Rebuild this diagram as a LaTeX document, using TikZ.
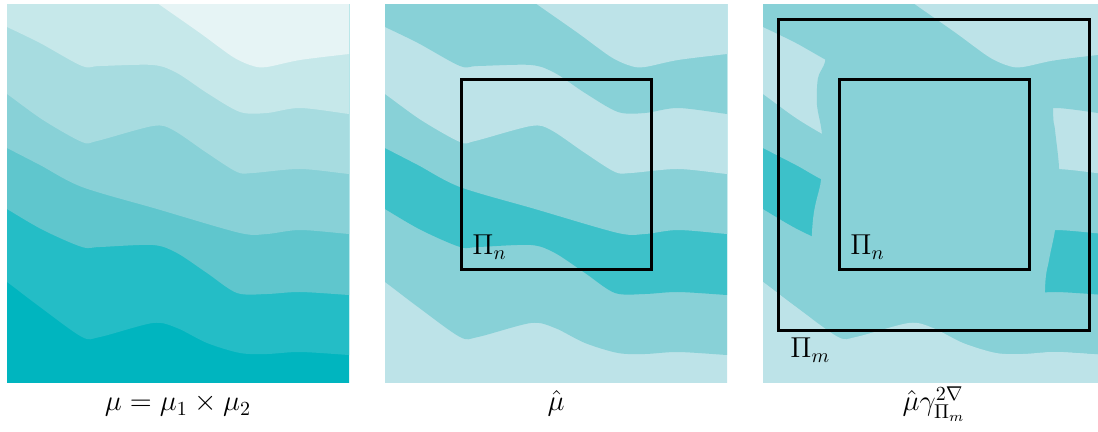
\documentclass[tikz,border=0pt]{standalone}
\definecolor{pa}{HTML}{E6F4F5}
\definecolor{pb}{HTML}{C6E8EA}
\definecolor{pc}{HTML}{A7DCE0}
\definecolor{pd}{HTML}{88D1D7}
\definecolor{pe}{HTML}{5FC6CD}
\definecolor{pf}{HTML}{24BDC6}
\definecolor{pg}{HTML}{00B5BF}
\definecolor{lt}{HTML}{BDE3E8}
\definecolor{md}{HTML}{88D1D7}
\definecolor{dk}{HTML}{3DC1C9}
\def\Cone{plot[smooth] coordinates {(139,-5)(153,5)(193,33)(226,57)(246,66)(260,67)(293,60)(342,54)(360,52)}}
\def\Ctwo{plot[smooth] coordinates {(-15,20)(0,27)(33,43)(75,66)(93,66)(146,65)(170,73)(200,93)(233,112)(260,113)(293,108)(342,114)(360,116)}}
\def\Cthree{plot[smooth] coordinates {(-15,84)(0,94)(36,120)(75,142)(90,141)(146,126)(166,130)(200,153)(230,172)(246,173)(293,169)(342,174)(360,175)}}
\def\Cfour{plot[smooth] coordinates {(-15,140)(0,148)(33,165)(75,187)(150,209)(233,233)(260,234)(293,230)(342,234)(360,235)}}
\def\Cfive{plot[smooth] coordinates {(-15,199)(0,209)(36,230)(75,247)(93,247)(146,245)(170,253)(200,273)(230,293)(260,294)(293,292)(342,295)(360,296)}}
\def\Csix{plot[smooth] coordinates {(-15,272)(0,282)(33,307)(75,337)(93,337)(146,323)(170,328)(200,343)(233,353)(260,354)(293,352)(342,355)(360,356)}}
\newcommand{\drawbands}[7]{%
  \fill[#7] (-20,-20) rectangle (370,400);
  \fill[#6] \Csix -- (360,-10) -- (-15,-10) -- cycle;
  \fill[#5] \Cfive -- (360,-10) -- (-15,-10) -- cycle;
  \fill[#4] \Cfour -- (360,-10) -- (-15,-10) -- cycle;
  \fill[#3] \Cthree -- (360,-10) -- (-15,-10) -- cycle;
  \fill[#2] \Ctwo -- (360,-10) -- (-15,-10) -- cycle;
  \fill[#1] \Cone -- (360,-10) -- cycle;
}
\tikzset{
  lbl/.style={inner sep=0pt, font=\fontsize{14.5}{17}\selectfont},
  boxline/.style={draw=black, line width=1.5pt}
}
\begin{document}
\begin{tikzpicture}[x=0.5pt,y=-0.5pt]
\useasboundingbox (0,0) rectangle (1098,432);
% panel 1
\begin{scope}[shift={(7,0)}]
  \clip (0,5) rectangle (342,383);
  \drawbands{pa}{pb}{pc}{pd}{pe}{pf}{pg}
\end{scope}
% panel 2
\begin{scope}[shift={(385,0)}]
  \clip (0,5) rectangle (342,383);
  \drawbands{lt}{md}{lt}{md}{dk}{md}{lt}
\end{scope}
% panel 3
\begin{scope}[shift={(763,0)}]
  \clip (0,5) rectangle (335,383);
  \drawbands{lt}{md}{lt}{md}{dk}{md}{lt}
  \fill[md] plot[smooth] coordinates {(63,-10)(63,40)(62,62)(55,78)(54,105)(59,135)(58,180)(49,233)(49,400)}
     -- plot[smooth] coordinates {(282,400)(282,290)(286,260)(292,230)(294,200)(296,168)(292,130)(290,108)(290,-10)} -- cycle;
  \fill[lt] \Cone -- (360,-10) -- cycle;
  \fill[lt] \Csix -- (360,400) -- (-15,400) -- cycle;
\end{scope}
% boxes
\draw[boxline] (461,80) rectangle (651,270);
\draw[boxline] (778,20) rectangle (1089,331);
\draw[boxline] (839,80) rectangle (1029,270);
% labels
\node[lbl, anchor=base west] (pin2) at (472,255) {$\Pi_n$};
\node[lbl, anchor=base west] (pin3) at (850,255) {$\Pi_n$};
\node[lbl, anchor=base west] (pim3) at (790,358) {$\Pi_m$};
\node[lbl, anchor=base] (cap1) at (178,411) {$\mu = \mu_1 \times \mu_2$};
\node[lbl, anchor=base] (cap2) at (556,411) {$\hat{\mu}$};
\node[lbl, anchor=base] (cap3) at (934,411) {$\hat{\mu}\gamma^{2\nabla}_{\Pi_m}$};
\end{tikzpicture}
\end{document}
